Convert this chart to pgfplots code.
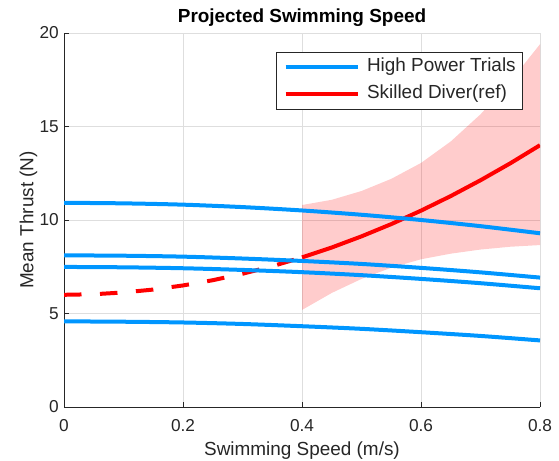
\documentclass[border=0pt]{standalone}
\usepackage{fontspec}
\setmainfont{Liberation Sans}
\usepackage{pgfplots}
\pgfplotsset{compat=1.18}
\definecolor{mgray}{rgb}{0.15,0.15,0.15}
\definecolor{mblue}{RGB}{0,150,255}
\begin{document}
\begin{tikzpicture}
\path[use as bounding box] (-64bp,-54bp) rectangle (495bp,407bp);
\begin{axis}[
  scale only axis, width=476bp, height=374bp,
  xmin=0, xmax=0.8, ymin=0, ymax=20,
  xtick={0,0.2,0.4,0.6,0.8}, ytick={0,5,10,15,20},
  xticklabels={0,0.2,0.4,0.6,0.8},
  axis x line*=bottom, axis y line*=left,
  axis line style={mgray, line width=0.8bp},
  tick align=inside, major tick length=5bp,
  tick style={mgray, line width=0.8bp},
  grid=major, major grid style={black!13, line width=0.6bp},
  /pgf/number format/assume math mode=true,
  ticklabel style={font=\fontsize{17.3}{20}\selectfont, text=mgray},
  xticklabel style={inner sep=0pt, anchor=north, yshift=-12.5bp},
  yticklabel style={inner sep=0pt, anchor=east, xshift=-5bp},
  xlabel={Swimming Speed (m/s)},
  ylabel={Mean Thrust (N)},
  xlabel style={at={(axis description cs:0.5,0)}, anchor=base, yshift=-48.5bp, inner sep=0pt, font=\fontsize{19}{22}\selectfont, text=mgray},
  ylabel style={at={(axis description cs:-0.0641,0.5)}, anchor=base, inner sep=0pt, font=\fontsize{19}{22}\selectfont, text=mgray},
  title={Projected Swimming Speed},
  title style={at={(axis description cs:0.5,1)}, anchor=base, yshift=4.3bp, inner sep=0pt, font=\bfseries\fontsize{19}{22}\selectfont, text=black},
  legend style={at={(axis description cs:1,1)}, anchor=north east, xshift=-17bp, yshift=-19bp,
    draw=mgray, line width=0.6bp, fill=white, inner xsep=7bp, inner ysep=1.5bp,
    font=\fontsize{19}{22}\selectfont, text=mgray,
    nodes={inner sep=0pt, text height=17.5bp, text depth=9.5bp},
    /tikz/every odd column/.append style={column sep=7.3bp}},
  legend cell align=left,
  legend image code/.code={\draw[#1] (0bp,0bp) -- (72bp,0bp);},
]
\addlegendimage{mblue, line width=4bp}
\addlegendentry{High Power Trials}
% confidence band
\addplot[fill=red, fill opacity=0.2, draw=none, forget plot] coordinates {
 (0.40,10.80) (0.45,11.08) (0.50,11.55) (0.55,12.20) (0.60,13.05) (0.65,14.20) (0.70,15.65) (0.75,17.40) (0.80,19.40)
 (0.80,8.66) (0.75,8.57) (0.70,8.42) (0.65,8.20) (0.60,7.90) (0.55,7.45) (0.50,6.85) (0.45,6.10) (0.40,5.19)
} -- cycle;
% red dashed extrapolation
\addplot[red, line width=4bp, dash pattern=on 17.5bp off 18.5bp, forget plot] coordinates {
 (0,6.0) (0.05,6.03) (0.10,6.125) (0.15,6.28) (0.20,6.5) (0.25,6.78) (0.30,7.125) (0.35,7.53) (0.40,8.0)
};
\addplot[red, line width=4bp] coordinates {
 (0.40,8.0) (0.45,8.53) (0.50,9.125) (0.55,9.78) (0.60,10.5) (0.65,11.28) (0.70,12.125) (0.75,13.03) (0.80,14.0)
};
\addlegendentry{Skilled Diver(ref)}
% blue trials
\addplot[mblue, line width=4bp, smooth, forget plot] coordinates {
 (0,10.92) (0.1,10.89) (0.2,10.82) (0.3,10.69) (0.4,10.51) (0.5,10.28) (0.6,10.00) (0.7,9.67) (0.8,9.29)
};
\addplot[mblue, line width=4bp, smooth, forget plot] coordinates {
 (0,8.11) (0.1,8.09) (0.2,8.04) (0.3,7.94) (0.4,7.81) (0.5,7.65) (0.6,7.44) (0.7,7.20) (0.8,6.92)
};
\addplot[mblue, line width=4bp, smooth, forget plot] coordinates {
 (0,7.49) (0.1,7.47) (0.2,7.42) (0.3,7.33) (0.4,7.21) (0.5,7.05) (0.6,6.85) (0.7,6.62) (0.8,6.35)
};
\addplot[mblue, line width=4bp, smooth, forget plot] coordinates {
 (0,4.58) (0.1,4.56) (0.2,4.52) (0.3,4.44) (0.4,4.32) (0.5,4.18) (0.6,4.00) (0.7,3.80) (0.8,3.56)
};
\end{axis}
\end{tikzpicture}
\end{document}
